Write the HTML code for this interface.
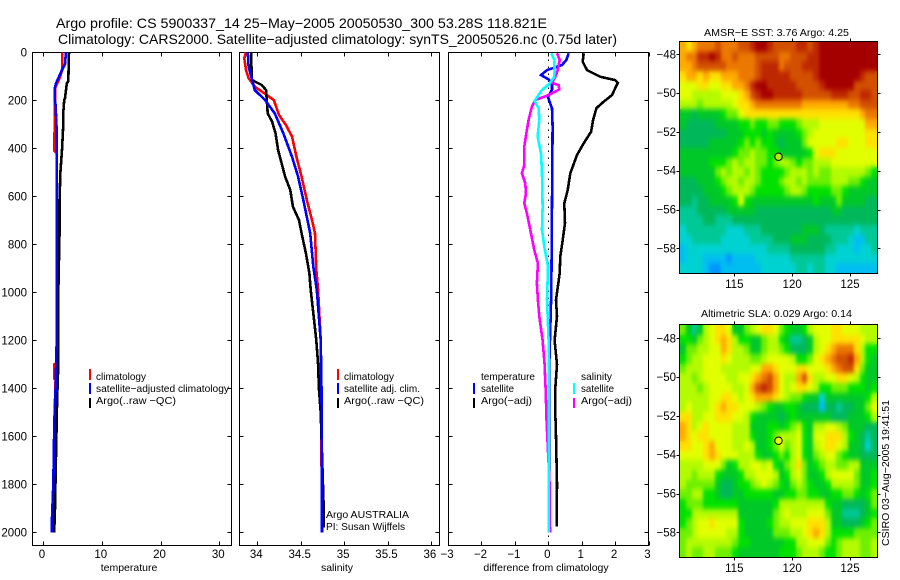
<!DOCTYPE html>
<html lang="en">
<head>
<meta charset="utf-8">
<title>Argo profile 5900337_14</title>
<style>
html,body{margin:0;padding:0;background:#fff;}
svg{display:block;font-family:"Liberation Sans",sans-serif;fill:#000;}
.title{font-size:14px;}
.tick{font-size:11.5px;}
.lab{font-size:10.5px;}
.leg{font-size:10.5px;}
</style>
</head>
<body>
<svg id="chart" xmlns="http://www.w3.org/2000/svg" width="900" height="580" viewBox="0 0 900 580">
  <defs>
    <filter id="soften" x="-5%" y="-5%" width="110%" height="110%" color-interpolation-filters="sRGB">
      <feGaussianBlur in="SourceGraphic" stdDeviation="1.6 2.6" result="soft"/>
      <feMerge><feMergeNode in="SourceGraphic"/><feMergeNode in="soft"/></feMerge>
    </filter>
    <clipPath id="clip-sst"><rect x="680" y="42" width="197" height="231"/></clipPath>
    <clipPath id="clip-sla"><rect x="680" y="325" width="197" height="232"/></clipPath>
  </defs>
  <text class="title" x="56" y="28" textLength="491" lengthAdjust="spacingAndGlyphs">Argo profile: CS 5900337_14 25−May−2005 20050530_300 53.28S 118.821E</text>
  <text class="title" x="58" y="44" textLength="559" lengthAdjust="spacingAndGlyphs">Climatology: CARS2000. Satellite−adjusted climatology: synTS_20050526.nc (0.75d later)</text>

  <g id="panels"></g>
  <g id="maps"></g>

  <g>
    <rect x="89" y="369" width="2" height="11" fill="#f00"/>
    <rect x="89" y="383" width="2" height="11" fill="#00f"/>
    <rect x="89" y="398" width="2" height="10" fill="#000"/>
    <text class="leg" x="96" y="380" textLength="50" lengthAdjust="spacingAndGlyphs">climatology</text>
    <text class="leg" x="96" y="392" textLength="133" lengthAdjust="spacingAndGlyphs">satellite−adjusted climatology</text>
    <text class="leg" x="96" y="404" textLength="80" lengthAdjust="spacingAndGlyphs">Argo(..raw −QC)</text>
  </g>
  <g>
    <rect x="337" y="369" width="2" height="11" fill="#f00"/>
    <rect x="337" y="383" width="2" height="11" fill="#00f"/>
    <rect x="337" y="398" width="2" height="10" fill="#000"/>
    <text class="leg" x="344" y="380" textLength="50" lengthAdjust="spacingAndGlyphs">climatology</text>
    <text class="leg" x="344" y="392" textLength="76" lengthAdjust="spacingAndGlyphs">satellite adj. clim.</text>
    <text class="leg" x="344" y="404" textLength="80" lengthAdjust="spacingAndGlyphs">Argo(..raw −QC)</text>
    <text class="leg" x="326" y="518" textLength="83" lengthAdjust="spacingAndGlyphs">Argo AUSTRALIA</text>
    <text class="leg" x="326" y="530" textLength="79" lengthAdjust="spacingAndGlyphs">PI: Susan Wijffels</text>
  </g>
  <g>
    <rect x="473" y="383" width="2" height="11" fill="#00f"/>
    <rect x="473" y="398" width="2" height="10" fill="#000"/>
    <rect x="573" y="383" width="2" height="11" fill="#0ff"/>
    <rect x="573" y="398" width="2" height="10" fill="#f0f"/>
    <text class="leg" x="481" y="380" textLength="54" lengthAdjust="spacingAndGlyphs">temperature</text>
    <text class="leg" x="481" y="392" textLength="33" lengthAdjust="spacingAndGlyphs">satellite</text>
    <text class="leg" x="481" y="404" textLength="51" lengthAdjust="spacingAndGlyphs">Argo(−adj)</text>
    <text class="leg" x="581" y="380" textLength="31" lengthAdjust="spacingAndGlyphs">salinity</text>
    <text class="leg" x="581" y="392" textLength="33" lengthAdjust="spacingAndGlyphs">satellite</text>
    <text class="leg" x="581" y="404" textLength="51" lengthAdjust="spacingAndGlyphs">Argo(−adj)</text>
  </g>
  <text class="lab" x="704" y="36" textLength="145" lengthAdjust="spacingAndGlyphs">AMSR−E SST: 3.76 Argo: 4.25</text>
  <text class="lab" x="701" y="317" textLength="151" lengthAdjust="spacingAndGlyphs">Altimetric SLA: 0.029 Argo: 0.14</text>
  <text class="lab" transform="translate(889 546) rotate(-90)" textLength="146" lengthAdjust="spacingAndGlyphs">CSIRO 03−Aug−2005 19:41:51</text>
</svg>
<script>
/* ---------- profile data ---------- */
var depthTicks = [0,200,400,600,800,1000,1200,1400,1600,1800,2000];
var tempTicks = [0,10,20,30];
var salTicks = [34,34.5,35,35.5,36];
var salTickLabels = ['34','34.5','35','35.5','36'];
var diffTicks = [-3,-2,-1,0,1,2,3];

var tempClimDepth = [0,70,100,120,150,200,410,420,1000,1295,1300,1360,1365,1550,1800,2000];
var tempClimValue = [3.3,3.3,2.95,2.6,2.05,2.05,1.93,2.33,2.33,2.33,1.95,1.95,2.15,1.93,1.76,1.53];
var tempSatDepth = [0,50,70,100,130,150,200,220,330,1000,1200,1400,1550,1800,1940,2000];
var tempSatValue = [3.9,3.75,3.3,2.75,2.2,2.0,2.0,2.15,2.33,2.33,2.33,2.15,1.93,1.76,1.53,1.53];
var tempArgoDepth = [0,120,130,190,200,250,300,400,500,620,760,1000,1200,1300,1450,1700,1900,2000];
var tempArgoValue = [4.43,4.3,4.05,3.75,3.6,3.45,3.45,3.25,2.96,2.8,2.8,2.6,2.6,2.6,2.4,2.2,2.05,1.9];

var salClimDepth = [0,25,74,108,143,178,199,261,303,351,435,518,615,699,754,907,990,1200,2000];
var salClimValue = [33.87,33.85,33.87,33.9,33.97,34.11,34.19,34.25,34.33,34.4,34.45,34.51,34.57,34.63,34.665,34.68,34.7,34.73,34.745];
var salSatDepth = [0,60,115,157,199,254,337,435,518,615,754,893,990,1200,1400,2000];
var salSatValue = [33.89,33.9,33.94,33.97,34.09,34.2,34.3,34.4,34.47,34.53,34.61,34.645,34.685,34.73,34.74,34.745];
var salArgoDepth = [0,115,125,136,157,199,254,289,337,407,462,518,574,643,699,754,837,921,990,1200,1300,1400,1500,1900,1980];
var salArgoValue = [33.93,33.935,33.99,34.05,34.1,34.11,34.12,34.17,34.21,34.24,34.28,34.32,34.38,34.41,34.48,34.51,34.56,34.6,34.615,34.68,34.7,34.71,34.73,34.765,34.765];

var diffTempArgoDepth = [4,39,74,102,116,127,157,178,206,233,282,331,379,428,504,574,629,712,782,851,921,1032,1100,1200,1300,1400,1500,1600,1800,1975];
var diffTempArgoValue = [1.06,1.03,1.16,1.56,2.0,2.08,1.98,1.91,1.66,1.44,1.34,1.28,1.06,0.86,0.66,0.58,0.48,0.5,0.43,0.36,0.34,0.23,0.26,0.19,0.26,0.21,0.21,0.23,0.26,0.25];
var diffTempSatDepth = [4,32,53,74,95,113,130,155,186,206,234,310,1000,1150,1300,2000];
var diffTempSatValue = [0.61,0.54,0.41,-0.04,-0.22,0.01,0.11,0.11,-0.01,0.04,0.11,0.13,0.09,0.06,0.03,0.03];
var diffSalArgoDepth = [4,32,74,102,127,137,155,178,199,227,282,338,393,470,504,546,588,629,671,740,824,879,962,1032,1100,1200,1300,1400,1540,1800,2000];
var diffSalArgoValue = [0.26,0.34,0.28,0.21,0.11,0.31,0.33,0.01,-0.39,-0.49,-0.59,-0.66,-0.72,-0.72,-0.79,-0.69,-0.67,-0.72,-0.64,-0.54,-0.42,-0.31,-0.34,-0.31,-0.27,-0.17,-0.11,-0.08,-0.05,0.04,0.05];
var diffSalSatDepth = [4,32,74,102,130,157,203,233,282,352,421,504,643,740,810,893,1032,1200,2000];
var diffSalSatValue = [0.09,0.18,0.19,0.18,0.04,-0.19,-0.41,-0.29,-0.27,-0.32,-0.22,-0.19,-0.17,-0.19,-0.12,-0.01,-0.04,0.01,0.01];

/* ---------- map data: colour level of each half-degree cell, north to south ---------- */
var lonTicks = [115,120,125];
var latTicks = [-48,-50,-52,-54,-56,-58];
var sstLevels = [
[11,10,11,12,12,12,13,12,12,12,13,13,14,15,15,14,13,13,13,13,14,14,13,14,15,15,15,15,15,15,15,15,15,15],
[11,12,12,14,14,15,14,12,12,13,12,12,12,13,13,13,13,12,12,13,13,13,14,14,15,15,15,15,15,15,15,15,15,15],
[11,11,12,13,13,13,13,13,12,12,12,12,12,13,14,14,14,12,13,13,13,14,14,14,15,15,15,15,15,15,15,15,15,15],
[10,11,11,10,11,10,10,11,11,11,12,12,12,13,14,14,14,14,14,13,13,13,13,14,15,15,15,15,15,15,15,14,13,13],
[9,9,9,10,10,9,9,10,10,11,11,12,14,15,15,14,14,14,14,14,13,13,13,13,14,15,15,15,15,15,13,13,13,13],
[9,9,8,8,8,8,8,9,9,9,10,11,13,14,15,15,14,14,14,14,14,13,13,13,13,13,14,14,14,13,13,14,14,13],
[8,8,8,7,8,8,8,8,8,9,10,10,11,12,12,12,12,12,12,12,12,11,11,11,11,11,11,11,11,12,12,13,13,13],
[5,5,4,5,5,5,5,6,7,7,9,10,10,10,10,10,10,10,10,10,10,10,10,10,10,10,10,10,10,10,10,11,12,12],
[5,4,4,4,4,4,5,5,5,5,6,6,7,6,6,7,7,6,6,6,7,8,8,8,9,9,9,9,9,9,9,9,11,11],
[4,4,4,4,4,4,4,4,5,5,5,6,6,6,5,6,5,5,5,5,6,7,8,9,9,9,9,9,9,9,9,9,10,10],
[4,4,4,4,4,5,5,5,5,5,6,7,6,7,6,6,5,4,5,5,5,7,9,9,9,9,9,10,10,9,9,9,10,10],
[5,5,5,5,5,5,5,5,5,6,7,7,8,7,7,6,6,5,5,5,5,5,6,9,10,10,10,9,9,9,9,9,9,9],
[5,5,5,5,5,6,6,6,7,8,7,8,8,7,7,6,7,8,8,7,6,7,7,8,8,8,9,9,9,9,9,9,9,9],
[5,5,5,5,5,5,7,8,7,8,8,7,8,7,6,6,6,6,7,8,8,8,7,8,7,7,8,8,8,8,8,8,7,6],
[4,4,4,5,5,5,6,7,8,8,7,8,8,7,6,6,6,7,8,8,7,8,7,7,7,7,8,8,8,7,7,6,5,5],
[4,4,4,4,5,5,5,6,7,8,8,8,7,6,6,6,6,6,7,8,8,7,6,6,6,6,7,7,6,5,5,5,5,5],
[4,4,3,4,4,5,5,5,5,6,9,6,5,5,5,5,5,5,5,5,5,5,5,6,5,5,5,7,5,5,5,5,4,4],
[3,3,3,4,4,4,4,4,5,5,5,5,5,4,4,4,4,4,4,4,4,4,4,4,4,4,5,5,4,4,4,4,4,4],
[3,3,3,3,4,4,3,3,3,4,4,4,4,4,4,4,4,4,4,4,4,4,4,4,4,4,4,4,4,4,4,4,4,4],
[2,3,3,3,3,3,3,3,2,2,2,3,3,3,4,4,4,4,4,4,4,5,5,5,4,3,3,3,3,3,2,3,3,3],
[2,2,3,3,3,3,3,2,2,2,2,2,3,3,3,3,4,4,4,5,5,5,4,4,4,4,3,3,3,2,1,1,3,3],
[1,2,2,2,2,2,2,2,2,2,2,2,2,2,2,3,3,3,3,4,4,4,4,4,4,3,3,2,2,2,1,2,2,3],
[1,2,2,2,1,1,1,1,0,1,1,1,1,2,2,2,2,2,2,3,3,3,3,3,3,2,2,2,2,2,2,2,2,2],
[2,2,2,2,1,0,0,1,1,1,1,1,1,1,2,2,2,2,2,2,3,3,2,3,3,2,2,1,1,1,1,1,1,1]
];
var slaLevels = [
[7,5,3,5,8,9,10,10,9,5,5,7,8,9,10,10,9,7,6,5,5,6,8,9,9,9,10,10,9,9,9,8,8,8],
[6,6,5,7,8,9,10,11,10,8,6,6,5,5,7,8,8,6,5,3,3,4,5,8,9,9,10,10,10,10,10,9,8,8],
[5,7,7,8,8,9,9,11,10,8,8,7,5,5,7,8,8,7,6,4,4,4,5,8,9,10,11,12,12,12,10,8,6,6],
[6,7,8,8,9,9,9,10,9,8,8,8,7,7,8,9,9,9,9,8,6,6,7,9,10,11,12,13,13,14,11,8,6,5],
[7,8,8,8,9,9,9,8,8,8,8,8,9,9,11,11,10,9,9,9,10,10,9,9,9,10,11,12,13,13,10,7,5,5],
[8,8,7,8,9,9,9,9,8,8,9,9,10,11,12,13,11,9,8,8,11,13,10,8,8,9,9,10,10,9,8,6,5,5],
[8,8,8,7,8,9,9,9,9,8,8,9,11,13,14,13,11,9,8,9,10,10,9,8,6,6,7,7,7,6,6,6,5,6],
[8,8,8,8,8,9,9,10,10,9,8,9,10,11,11,11,10,9,8,7,7,6,5,5,2,5,5,5,5,5,5,5,6,8],
[8,9,8,8,8,9,10,11,10,10,9,9,9,8,7,6,5,5,6,6,5,4,4,4,1,4,4,3,4,4,5,5,7,9],
[10,10,8,8,9,9,10,10,10,9,9,8,6,5,5,5,5,4,5,6,5,5,5,5,5,5,4,4,4,5,5,5,6,8],
[11,10,8,9,10,9,9,9,9,8,8,8,5,5,5,6,6,5,6,7,8,6,5,8,8,9,9,8,7,5,5,5,4,4],
[11,10,9,10,10,9,9,9,9,8,8,8,6,5,5,6,7,8,8,8,9,6,5,9,9,10,10,10,8,6,5,4,3,4],
[10,10,9,9,10,11,9,9,9,8,8,9,8,5,5,6,7,9,7,8,9,6,5,8,9,10,10,9,8,5,5,4,2,4],
[9,9,9,9,10,11,10,9,9,9,8,8,8,6,5,5,6,7,6,8,9,6,5,7,8,9,9,7,6,5,5,4,4,4],
[8,8,8,8,9,9,9,7,5,6,8,8,9,9,8,9,6,5,7,8,10,7,5,6,7,8,8,7,7,8,8,5,5,5],
[8,8,7,8,8,8,6,5,5,5,6,8,8,9,9,9,8,5,6,8,9,7,5,5,6,8,9,9,9,9,7,5,5,6],
[8,7,7,7,7,7,5,4,4,5,6,6,7,8,9,8,7,6,5,7,8,7,6,5,5,6,8,8,8,8,7,5,5,6],
[7,7,8,8,6,6,5,4,4,5,5,6,6,6,6,6,5,5,6,6,7,7,6,6,5,5,6,6,7,7,6,5,6,7],
[6,7,7,7,6,6,6,6,6,6,5,5,5,5,5,5,6,8,8,8,8,8,8,8,8,6,5,5,4,4,4,4,5,7],
[6,6,8,8,8,8,8,8,8,8,5,5,5,5,5,5,7,8,9,8,8,8,9,9,9,7,5,5,3,3,3,4,5,6],
[6,7,8,9,9,10,9,9,9,9,6,5,5,5,5,6,7,8,8,9,9,9,10,10,10,8,5,5,4,4,4,5,6,7],
[7,7,8,9,9,9,9,9,8,8,6,5,5,5,5,5,7,7,7,8,8,9,10,11,10,8,6,6,6,6,7,7,7,7],
[7,8,8,8,8,8,8,8,8,7,6,6,5,5,5,5,5,5,6,6,8,8,9,9,9,7,6,7,8,8,8,7,7,8],
[7,8,7,7,8,8,7,7,7,6,5,5,5,5,5,5,5,6,6,6,7,8,8,8,7,6,6,7,8,8,8,7,7,8]
];
var floatLon = 118.82;
var floatLat = -53.28;

var palette = ['#0096ff','#00bef0','#00d2d2','#00c896','#00b85a','#00c828','#00e100','#6ef000','#b4fa00','#e1ff00','#ffe100','#ffaa00','#eb7800','#d25000','#be2800','#a50000'];

/* ---------- drawing ---------- */
var NS = 'http://www.w3.org/2000/svg';
function make(tag, parent, attrs, text) {
  var el = document.createElementNS(NS, tag);
  for (var k in attrs) { el.setAttribute(k, attrs[k]); }
  if (text !== undefined) { el.textContent = text; }
  parent.appendChild(el);
  return el;
}
var TOP = 52.5, BOTTOM = 545.5;
function depthY(d) { return 52.3 + d * 0.24; }

function linePoints(depths, values, xf) {
  return depths.map(function (d, i) { return xf(values[i]).toFixed(1) + ',' + depthY(d).toFixed(1); }).join(' ');
}

function drawProfile(root, name, colour, depths, values, xf) {
  var pl = make('polyline', root, {points: linePoints(depths, values, xf), fill: 'none', stroke: colour, 'stroke-width': 2.6, 'shape-rendering': 'crispEdges'});
  
  
}

function drawFrame(name, left, right, xf, xTicks, xLabels, showDepthLabels, xTitle, titleX) {
  var g = make('g', document.getElementById('panels'), {});
  
  
  var box = make('rect', g, {x: left, y: TOP, width: right - left, height: BOTTOM - TOP, fill: '#fff', stroke: '#000', 'stroke-width': 1, 'shape-rendering': 'crispEdges'});
  
  
  depthTicks.forEach(function (d) {
    var yy = Math.round(depthY(d)) + 0.5;
    var t = make('path', g, {d: 'M' + left + ' ' + yy + 'h4M' + right + ' ' + yy + 'h-4', stroke: '#000', fill: 'none', 'shape-rendering': 'crispEdges'});
    
    
    if (showDepthLabels) {
      var l = make('text', g, {x: 27, y: depthY(d) + 4, 'text-anchor': 'end', 'class': 'tick'}, String(d));
      
      
    }
  });
  xTicks.forEach(function (v, i) {
    var xx = Math.round(xf(v)) + 0.5;
    var t = make('path', g, {d: 'M' + xx + ' ' + TOP + 'v4M' + xx + ' ' + BOTTOM + 'v-4', stroke: '#000', fill: 'none', 'shape-rendering': 'crispEdges'});
    
    
    var l = make('text', g, {x: xf(v) - 1, y: 558, 'text-anchor': 'middle', 'class': 'tick'}, xLabels[i]);
    
    
  });
  var ttl = make('text', g, {x: titleX, y: 571, 'text-anchor': 'middle', 'class': 'lab'}, xTitle);
  
  
  return g;
}

function tempX(v) { return 43 + v * 5.875; }
function salX(v) { return 257.3 + (v - 34) * 86.8; }
function diffX(v) { return 548.3 + v * 33.4; }

var p1 = drawFrame('temperature-panel', 32.5, 231.5, tempX, tempTicks, tempTicks.map(String), true, 'temperature', 129);
drawProfile(p1, 'temperature-climatology-line', '#f00', tempClimDepth, tempClimValue, tempX);
drawProfile(p1, 'temperature-argo-line', '#000', tempArgoDepth, tempArgoValue, tempX);
drawProfile(p1, 'temperature-satellite-line', '#00f', tempSatDepth, tempSatValue, tempX);

var p2 = drawFrame('salinity-panel', 239.5, 439.5, salX, salTicks, salTickLabels, false, 'salinity', 337);
drawProfile(p2, 'salinity-climatology-line', '#f00', salClimDepth, salClimValue, salX);
drawProfile(p2, 'salinity-argo-line', '#000', salArgoDepth, salArgoValue, salX);
drawProfile(p2, 'salinity-satellite-line', '#00f', salSatDepth, salSatValue, salX);

var p3 = drawFrame('difference-panel', 448.5, 648.5, diffX, diffTicks, diffTicks.map(function (v) { return v < 0 ? '−' + (-v) : String(v); }), false, 'difference from climatology', 546);
var zero = make('line', p3, {x1: diffX(0), x2: diffX(0), y1: TOP, y2: BOTTOM, stroke: '#000', 'stroke-width': 1, 'stroke-dasharray': '1.5 5.5', 'shape-rendering': 'crispEdges'});


drawProfile(p3, 'difference-temperature-argo-line', '#000', diffTempArgoDepth, diffTempArgoValue, diffX);
drawProfile(p3, 'difference-temperature-satellite-line', '#00f', diffTempSatDepth, diffTempSatValue, diffX);
drawProfile(p3, 'difference-salinity-argo-line', '#f0f', diffSalArgoDepth, diffSalArgoValue, diffX);
drawProfile(p3, 'difference-salinity-satellite-line', '#0ff', diffSalSatDepth, diffSalSatValue, diffX);

function drawMap(name, levels, top, bottom, lat48Y, markerFill, clipId) {
  var g = make('g', document.getElementById('maps'), {});
  
  
  var LEFT = 680, RIGHT = 877;
  function lonX(v) { return 734.3 + (v - 115) * 11.57; }
  function latY(v) { return lat48Y + (-48 - v) * 19.4; }
  var rows = levels.length;
  var cols = levels[0].length;
  var cw = (RIGHT - LEFT) / cols, ch = (bottom - top) / rows;
  var clip = make('g', g, {'clip-path': 'url(#' + clipId + ')'});
  
  
  var cells = make('g', clip, {filter: 'url(#soften)'});
  
  
  levels.forEach(function (row, r) {
    row.forEach(function (lev, c) {
      var x0 = Math.round(LEFT + c * cw), x1 = Math.round(LEFT + (c + 1) * cw);
      var y0 = Math.round(top + r * ch), y1 = Math.round(top + (r + 1) * ch);
      var cell = make('rect', cells, {x: x0, y: y0, width: x1 - x0, height: y1 - y0, fill: palette[lev], 'shape-rendering': 'crispEdges'});
      
      
    });
  });
  var frame = make('rect', g, {x: LEFT - 0.5, y: top - 0.5, width: RIGHT - LEFT + 1, height: bottom - top + 1, fill: 'none', stroke: '#000', 'shape-rendering': 'crispEdges'});
  
  
  lonTicks.forEach(function (v) {
    var xx = Math.round(lonX(v)) + 0.5;
    var t = make('path', g, {d: 'M' + xx + ' ' + (top - 0.5) + 'v-3M' + xx + ' ' + (bottom + 0.5) + 'v3', stroke: '#000', fill: 'none', 'shape-rendering': 'crispEdges'});
    
    
    var l = make('text', g, {x: lonX(v), y: bottom + 15, 'text-anchor': 'middle', 'class': 'tick'}, String(v));
    
    
  });
  latTicks.forEach(function (v) {
    var yy = Math.round(latY(v)) + 0.5;
    var t = make('path', g, {d: 'M' + (LEFT - 0.5) + ' ' + yy + 'h-3M' + (RIGHT + 0.5) + ' ' + yy + 'h3', stroke: '#000', fill: 'none', 'shape-rendering': 'crispEdges'});
    
    
    var l = make('text', g, {x: 676, y: latY(v) + 4, 'text-anchor': 'end', 'class': 'tick'}, '−' + (-v));
    
    
  });
  var m = make('circle', g, {cx: lonX(floatLon), cy: latY(floatLat), r: 3.7, fill: markerFill, stroke: '#000', 'stroke-width': 1});
  
  
}

drawMap('sst-map', sstLevels, 42, 273, 54.3, '#b4f000', 'clip-sst');
drawMap('sla-map', slaLevels, 325, 557, 338.3, '#e6ff00', 'clip-sla');
</script>
</body>
</html>
